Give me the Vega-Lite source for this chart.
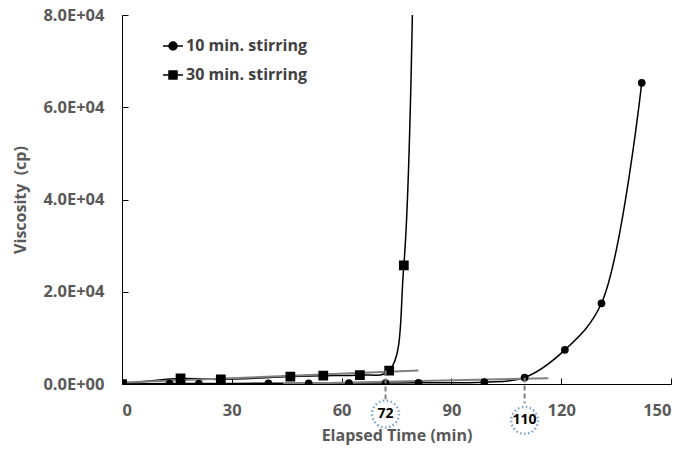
{
  "$schema": "https://vega.github.io/schema/vega-lite/v6.json",
  "width": 549,
  "height": 369,
  "autosize": "none",
  "padding": {"left": 122, "top": 15, "right": 13, "bottom": 65},
  "background": "white",
  "config": {
    "view": {"stroke": null},
    "font": "Open Sans",
    "axis": {
      "grid": false,
      "domainColor": "black",
      "tickColor": "black",
      "labelFont": "Open Sans",
      "labelFontWeight": "bold",
      "labelFontSize": 16.5,
      "labelColor": "#595959",
      "titleFont": "Open Sans",
      "titleFontWeight": "bold",
      "titleFontSize": 16,
      "titleColor": "#595959"
    },
    "legend": {
      "orient": "none", "title": null,
      "symbolSize": 400, "symbolFillColor": "black", "symbolStrokeColor": "black", "symbolStrokeWidth": 1.5,
      "labelFont": "Open Sans", "labelFontWeight": "bold", "labelFontSize": 16, "labelColor": "#404040",
      "labelOffset": 2
    }
  },
  "datasets": {
    "curves": [
      {"series": "10 min. stirring", "t": 0, "v": 0},
      {"series": "10 min. stirring", "t": 13, "v": 100},
      {"series": "10 min. stirring", "t": 21, "v": 100},
      {"series": "10 min. stirring", "t": 40, "v": 150},
      {"series": "10 min. stirring", "t": 51, "v": 150},
      {"series": "10 min. stirring", "t": 62, "v": 200},
      {"series": "10 min. stirring", "t": 72, "v": 200},
      {"series": "10 min. stirring", "t": 81, "v": 250},
      {"series": "10 min. stirring", "t": 99, "v": 400},
      {"series": "10 min. stirring", "t": 110, "v": 1400},
      {"series": "10 min. stirring", "t": 121, "v": 7400},
      {"series": "10 min. stirring", "t": 131, "v": 17500},
      {"series": "10 min. stirring", "t": 142, "v": 65300},
      {"series": "30 min. stirring", "t": 0, "v": 0},
      {"series": "30 min. stirring", "t": 16, "v": 1200},
      {"series": "30 min. stirring", "t": 27, "v": 1000},
      {"series": "30 min. stirring", "t": 46, "v": 1600},
      {"series": "30 min. stirring", "t": 55, "v": 1800},
      {"series": "30 min. stirring", "t": 65, "v": 1950},
      {"series": "30 min. stirring", "t": 73, "v": 2900},
      {"series": "30 min. stirring", "t": 77, "v": 25700},
      {"series": "30 min. stirring", "t": 80, "v": 115000}
    ],
    "trends": [
      {"trend": "a", "t": 0, "v": 300},
      {"trend": "a", "t": 81, "v": 2900},
      {"trend": "b", "t": 44, "v": 0},
      {"trend": "b", "t": 116.5, "v": 1250}
    ],
    "marks": [
      {"label": "72", "t": 72, "top": 2900, "bottom": -3300, "cy": -6500},
      {"label": "110", "t": 110, "top": 1400, "bottom": -4200, "cy": -7900}
    ]
  },
  "encoding": {
    "x": {
      "field": "t", "type": "quantitative",
      "scale": {"domain": [0, 150], "nice": false},
      "axis": {"values": [0, 30, 60, 90, 120, 150], "title": "Elapsed Time (min)", "tickSize": -6, "labelPadding": 24, "titlePadding": 9}
    },
    "y": {
      "field": "v", "type": "quantitative",
      "scale": {"domain": [0, 80000], "nice": false},
      "axis": {"values": [0, 20000, 40000, 60000, 80000], "title": "Viscosity\u00a0 (cp)", "tickSize": -6, "labelPadding": 24, "titlePadding": 14,
        "labelExpr": "datum.value == 0 ? '0.0E+00' : format(datum.value / 10000, '.1f') + 'E+04'"}
    }
  },
  "layer": [
    {
      "data": {"name": "curves"},
      "mark": {"type": "line", "interpolate": "catmull-rom", "color": "black", "strokeWidth": 1.5, "clip": true},
      "encoding": {"detail": {"field": "series"}}
    },
    {
      "data": {"name": "trends"},
      "mark": {"type": "line", "color": "#808080", "strokeWidth": 2, "clip": true},
      "encoding": {"detail": {"field": "trend"}}
    },
    {
      "data": {"name": "curves"},
      "transform": [{"filter": "datum.series == '10 min. stirring'"}],
      "mark": {"type": "point", "shape": "circle", "filled": true, "opacity": 1, "size": 60, "clip": true},
      "encoding": {
        "fill": {
          "field": "series", "type": "nominal",
          "scale": {"range": ["black"]},
          "legend": {"legendX": 40, "legendY": 20, "symbolType": "M-1,0H1M-0.4,0A0.4,0.4 0 1,1 0.4,0A0.4,0.4 0 1,1 -0.4,0Z"}
        }
      }
    },
    {
      "data": {"name": "curves"},
      "transform": [{"filter": "datum.series == '30 min. stirring'"}],
      "mark": {"type": "point", "shape": "square", "filled": true, "fill": "black", "opacity": 1, "size": 60, "clip": true},
      "encoding": {
        "stroke": {
          "field": "series", "type": "nominal",
          "scale": {"range": ["black"]},
          "legend": {"legendX": 40, "legendY": 49, "symbolType": "M-1,0H1M-0.4,-0.4H0.4V0.4H-0.4Z"}
        }
      }
    },
    {
      "data": {"name": "marks"},
      "mark": {"type": "rule", "color": "#7f7f7f", "strokeWidth": 2, "strokeDash": [5, 3]},
      "encoding": {"y": {"field": "top", "type": "quantitative"}, "y2": {"field": "bottom"}}
    },
    {
      "data": {"name": "marks"},
      "mark": {"type": "point", "shape": "circle", "filled": false, "color": "#4a7ebb", "strokeWidth": 2.5, "strokeDash": [1.5, 2.5], "size": 720},
      "encoding": {"y": {"field": "cy", "type": "quantitative"}}
    },
    {
      "data": {"name": "marks"},
      "mark": {"type": "text", "font": "Open Sans", "fontWeight": "bold", "fontSize": 14, "color": "black", "baseline": "middle", "align": "center"},
      "encoding": {"y": {"field": "cy", "type": "quantitative"}, "text": {"field": "label"}}
    }
  ]
}
